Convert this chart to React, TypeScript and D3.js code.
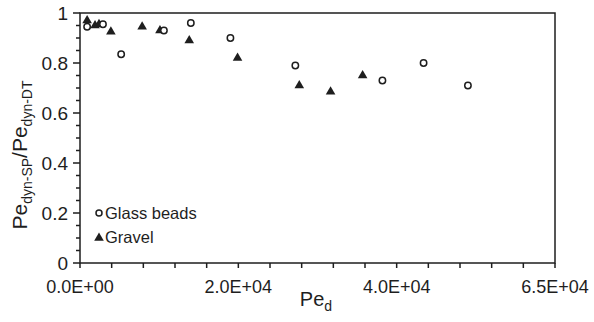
import * as React from 'react'
import * as d3 from 'd3'

// Glass beads [Pe_d, ratio]
const glassX = [900, 2900, 5200, 10600, 14000, 19000, 27200, 38200, 43400, 49000]
const glassY = [0.945, 0.955, 0.835, 0.93, 0.96, 0.9, 0.79, 0.73, 0.8, 0.71]
// Gravel
const gravelX = [900, 1900, 2400, 3900, 7850, 10100, 13800, 19900, 27700, 31650, 35700]
const gravelY = [0.97, 0.95, 0.955, 0.925, 0.945, 0.93, 0.89, 0.82, 0.71, 0.685, 0.75]

const xTicks = [0, 20000, 40000, 60000]
const xTickLabels = ['0.0E+00', '2.0E+04', '4.0E+04', '6.5E+04']
const yTicks = [0, 0.2, 0.4, 0.6, 0.8, 1]
const yTickLabels = ['0', '0.2', '0.4', '0.6', '0.8', '1']

const W = 594
const H = 322
const margin = { top: 13, right: 39, bottom: 59, left: 80 }
const font = 'Liberation Sans, Arial, sans-serif'

export default function App() {
  const ref = React.useRef<SVGSVGElement>(null)

  React.useEffect(() => {
    const svg = d3.select(ref.current)
    svg.selectAll('*').remove()

    const x = d3.scaleLinear().domain([0, 60000]).range([margin.left, W - margin.right])
    const y = d3.scaleLinear().domain([0, 1]).range([H - margin.bottom, margin.top])
    const ink = '#1e1e1e'

    // frame
    svg.append('rect')
      .attr('x', x(0)).attr('y', y(1))
      .attr('width', x(60000) - x(0)).attr('height', y(0) - y(1))
      .attr('fill', 'none').attr('stroke', ink).attr('stroke-width', 1.5)

    // y ticks (minor every 0.05, major every 0.2)
    d3.range(0, 21).forEach(i => {
      const v = i * 0.05
      const major = i % 4 === 0
      svg.append('line')
        .attr('x1', x(0) - (major ? 7 : 4)).attr('x2', x(0))
        .attr('y1', y(v)).attr('y2', y(v))
        .attr('stroke', ink).attr('stroke-width', 1.5)
    })
    yTicks.forEach((v, i) => {
      svg.append('text')
        .attr('x', x(0) - 12).attr('y', y(v))
        .attr('dy', '0.36em')
        .attr('text-anchor', 'end')
        .attr('font-family', font).attr('font-size', 19)
        .attr('fill', ink)
        .text(yTickLabels[i])
    })

    // x ticks every 4000
    d3.range(0, 16).forEach(i => {
      const v = i * 4000
      svg.append('line')
        .attr('x1', x(v)).attr('x2', x(v))
        .attr('y1', y(0)).attr('y2', y(0) + 5)
        .attr('stroke', ink).attr('stroke-width', 1.5)
    })
    xTicks.forEach((v, i) => {
      svg.append('text')
        .attr('x', x(v)).attr('y', y(0) + 30)
        .attr('text-anchor', 'middle')
        .attr('font-family', font).attr('font-size', 18)
        .attr('fill', ink)
        .text(xTickLabels[i])
    })

    // axis titles
    const xt = svg.append('text')
      .attr('x', 316).attr('y', 306)
      .attr('text-anchor', 'middle')
      .attr('font-family', font).attr('font-size', 20)
      .attr('fill', ink)
    xt.append('tspan').text('Pe')
    xt.append('tspan').attr('font-size', 14).attr('dy', 5).text('d')

    const yt = svg.append('text')
      .attr('transform', 'translate(27, 155) rotate(-90)')
      .attr('text-anchor', 'middle')
      .attr('font-family', font).attr('font-size', 21)
      .attr('fill', ink)
    yt.append('tspan').text('Pe')
    yt.append('tspan').attr('font-size', 14).attr('dy', 5).text('dyn-SP')
    yt.append('tspan').attr('dy', -5).text('/Pe')
    yt.append('tspan').attr('font-size', 14).attr('dy', 5).text('dyn-DT')

    const tri = d3.symbol().type(d3.symbolTriangle).size(40)

    // markers
    svg.append('g').selectAll('path')
      .data(gravelX.map((v, i) => [v, gravelY[i]]))
      .join('path')
      .attr('d', tri)
      .attr('transform', d => `translate(${x(d[0])}, ${y(d[1])})`)
      .attr('fill', ink)

    svg.append('g').selectAll('circle')
      .data(glassX.map((v, i) => [v, glassY[i]]))
      .join('circle')
      .attr('cx', d => x(d[0])).attr('cy', d => y(d[1]))
      .attr('r', 3.2)
      .attr('fill', 'white').attr('stroke', ink).attr('stroke-width', 1.5)

    // legend
    svg.append('circle')
      .attr('cx', 99).attr('cy', 213).attr('r', 3)
      .attr('fill', 'white').attr('stroke', ink).attr('stroke-width', 1.5)
    svg.append('text')
      .attr('x', 105).attr('y', 213).attr('dy', '0.36em')
      .attr('font-family', font).attr('font-size', 16.5).attr('fill', ink)
      .text('Glass beads')
    svg.append('path')
      .attr('d', tri)
      .attr('transform', 'translate(99, 238)')
      .attr('fill', ink)
    svg.append('text')
      .attr('x', 105).attr('y', 237).attr('dy', '0.36em')
      .attr('font-family', font).attr('font-size', 16.5).attr('fill', ink)
      .text('Gravel')
  }, [])

  return (
    <svg ref={ref} width={W} height={H}
      style={{ position: 'absolute', left: 0, top: 0, background: 'white' }} />
  )
}
